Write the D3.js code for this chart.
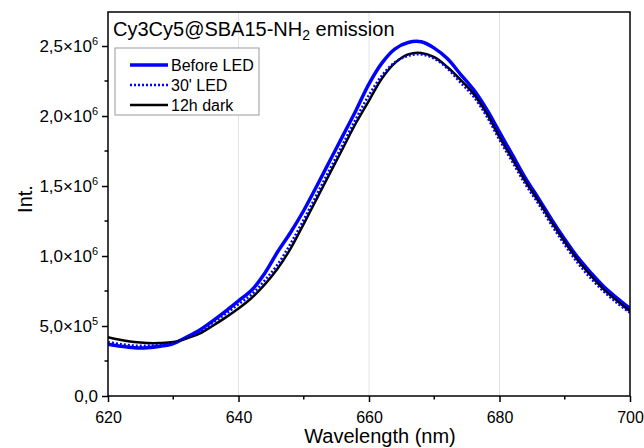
<!DOCTYPE html>
<html><head><meta charset="utf-8">
<script src="https://cdn.jsdelivr.net/npm/d3@7"></script>
<style>body{margin:0;background:#fff}svg{display:block}text{font-family:"Liberation Sans",Arial,sans-serif}</style>
</head><body><svg id="c" width="644" height="448"></svg>
<script>
const wavelengths = [620,622,624,626,628,630,632,634,636,638,640,642,644,646,648,650,652,654,656,658,660,662,664,666,668,670,672,674,676,678,680,682,684,686,688,690,692,694,696,698,700];
const beforeLED = [0.370,0.355,0.345,0.345,0.355,0.375,0.420,0.470,0.535,0.605,0.680,0.755,0.875,1.030,1.170,1.325,1.500,1.680,1.860,2.040,2.230,2.380,2.480,2.525,2.530,2.485,2.410,2.300,2.190,2.050,1.885,1.720,1.555,1.410,1.260,1.120,0.990,0.880,0.780,0.700,0.625];
const led30 = [0.385,0.370,0.360,0.360,0.365,0.380,0.415,0.460,0.520,0.585,0.655,0.725,0.825,0.940,1.090,1.260,1.440,1.620,1.800,1.980,2.150,2.290,2.385,2.430,2.440,2.410,2.340,2.240,2.140,2.000,1.830,1.670,1.510,1.370,1.220,1.080,0.950,0.840,0.745,0.665,0.595];
const dark12h = [0.420,0.400,0.385,0.378,0.378,0.385,0.410,0.445,0.500,0.560,0.625,0.700,0.795,0.910,1.055,1.230,1.410,1.590,1.770,1.950,2.110,2.270,2.380,2.440,2.450,2.420,2.350,2.260,2.160,2.020,1.850,1.690,1.530,1.390,1.240,1.100,0.970,0.860,0.760,0.680,0.605];
const seriesNames = ["Before LED","30' LED","12h dark"];
const xTicks = [620,640,660,680,700];
const xMinor = [630,650,670,690];
const yTickLabels = [["0,0",""],["5,0×10","5"],["1,0×10","6"],["1,5×10","6"],["2,0×10","6"],["2,5×10","6"]];
const yTicks = [0,0.5e6,1.0e6,1.5e6,2.0e6,2.5e6];
const yMinor = [0.25e6,0.75e6,1.25e6,1.75e6,2.25e6];
const gridX = [640,660,680];

const svg = d3.select("#c");
const L=108,R=630,T=12,B=396;
const x = d3.scaleLinear().domain([620,700]).range([L,R]);
const y = d3.scaleLinear().domain([0,2.743e6]).range([B,T]);

svg.append("g").selectAll("line").data(gridX).join("line")
  .attr("x1",d=>x(d)).attr("x2",d=>x(d)).attr("y1",T).attr("y2",B)
  .attr("stroke","#e3e3e3").attr("stroke-width",1);

const styles = [
  {c:"#0000ff",w:3.5,dash:null},
  {c:"#0000ff",w:2.5,dash:"2,2"},
  {c:"#000000",w:2.5,dash:null}
];
const data = [beforeLED, led30, dark12h];
const line = d3.line().x((d,i)=>x(wavelengths[i])).y(d=>y(d*1e6)).curve(d3.curveCatmullRom);
svg.append("clipPath").attr("id","cp").append("rect").attr("x",L).attr("y",T).attr("width",R-L).attr("height",B-T);
[0,2,1].forEach(k=>{
  svg.append("path").attr("d",line(data[k])).attr("fill","none")
    .attr("stroke",styles[k].c).attr("stroke-width",styles[k].w)
    .attr("stroke-dasharray",styles[k].dash).attr("clip-path","url(#cp)");
});

// frame
svg.append("rect").attr("x",L).attr("y",T).attr("width",R-L).attr("height",B-T)
  .attr("fill","none").attr("stroke","#000").attr("stroke-width",1.5);

// x axis
const xa = svg.append("g").attr("transform",`translate(0,${B})`)
  .call(d3.axisBottom(x).tickValues(xTicks).tickSize(6).tickFormat(d3.format("d")));
xa.select(".domain").remove();
xa.selectAll("line").attr("stroke-width",1.5);
xa.selectAll("text").attr("font-size",16).attr("fill","#000").attr("dy",null).attr("y",27)
  .attr("font-family","Liberation Sans, Arial, sans-serif");
svg.append("g").selectAll("line").data(xMinor).join("line")
  .attr("x1",d=>x(d)).attr("x2",d=>x(d)).attr("y1",B).attr("y2",B+3.5).attr("stroke","#000").attr("stroke-width",1.5);

// y axis
const ya = svg.append("g").attr("transform",`translate(${L},0)`)
  .call(d3.axisLeft(y).tickValues(yTicks).tickSize(6).tickFormat(""));
ya.select(".domain").remove();
ya.selectAll("line").attr("stroke-width",1.5);
svg.append("g").selectAll("line").data(yMinor).join("line")
  .attr("x1",L-3.5).attr("x2",L).attr("y1",d=>y(d)).attr("y2",d=>y(d)).attr("stroke","#000").attr("stroke-width",1.5);
const yl = svg.append("g").selectAll("text").data(yTicks).join("text")
  .attr("x",L-10).attr("y",d=>y(d)+6).attr("text-anchor","end").attr("font-size",17).attr("fill","#000");
yl.each(function(d,i){
  const t=d3.select(this);
  t.append("tspan").text(yTickLabels[i][0]);
  if(yTickLabels[i][1]) t.append("tspan").attr("dy",-7).attr("font-size",11).text(yTickLabels[i][1]);
});

// axis titles
svg.append("text").attr("x",380).attr("y",443).attr("text-anchor","middle").attr("font-size",20).text("Wavelength (nm)");
svg.append("text").attr("transform",`translate(32,199) rotate(-90)`).attr("text-anchor","middle").attr("font-size",20).text("Int.");

// title
const tt = svg.append("text").attr("x",113).attr("y",36).attr("font-size",20);
tt.append("tspan").text("Cy3Cy5@SBA15-NH");
tt.append("tspan").attr("dy",4).attr("font-size",14).text("2");
tt.append("tspan").attr("dy",-4).text(" emission");

// legend
svg.append("rect").attr("x",115).attr("y",48).attr("width",144).attr("height",67)
  .attr("fill","#fff").attr("stroke","#999").attr("stroke-width",1);
seriesNames.forEach((n,i)=>{
  const yy = 65 + i*20;
  svg.append("line").attr("x1",130).attr("x2",168).attr("y1",yy).attr("y2",yy)
    .attr("stroke",styles[i].c).attr("stroke-width",styles[i].w).attr("stroke-dasharray",styles[i].dash);
  svg.append("text").attr("x",171).attr("y",yy+6).attr("font-size",16).text(n);
});
</script></body></html>
